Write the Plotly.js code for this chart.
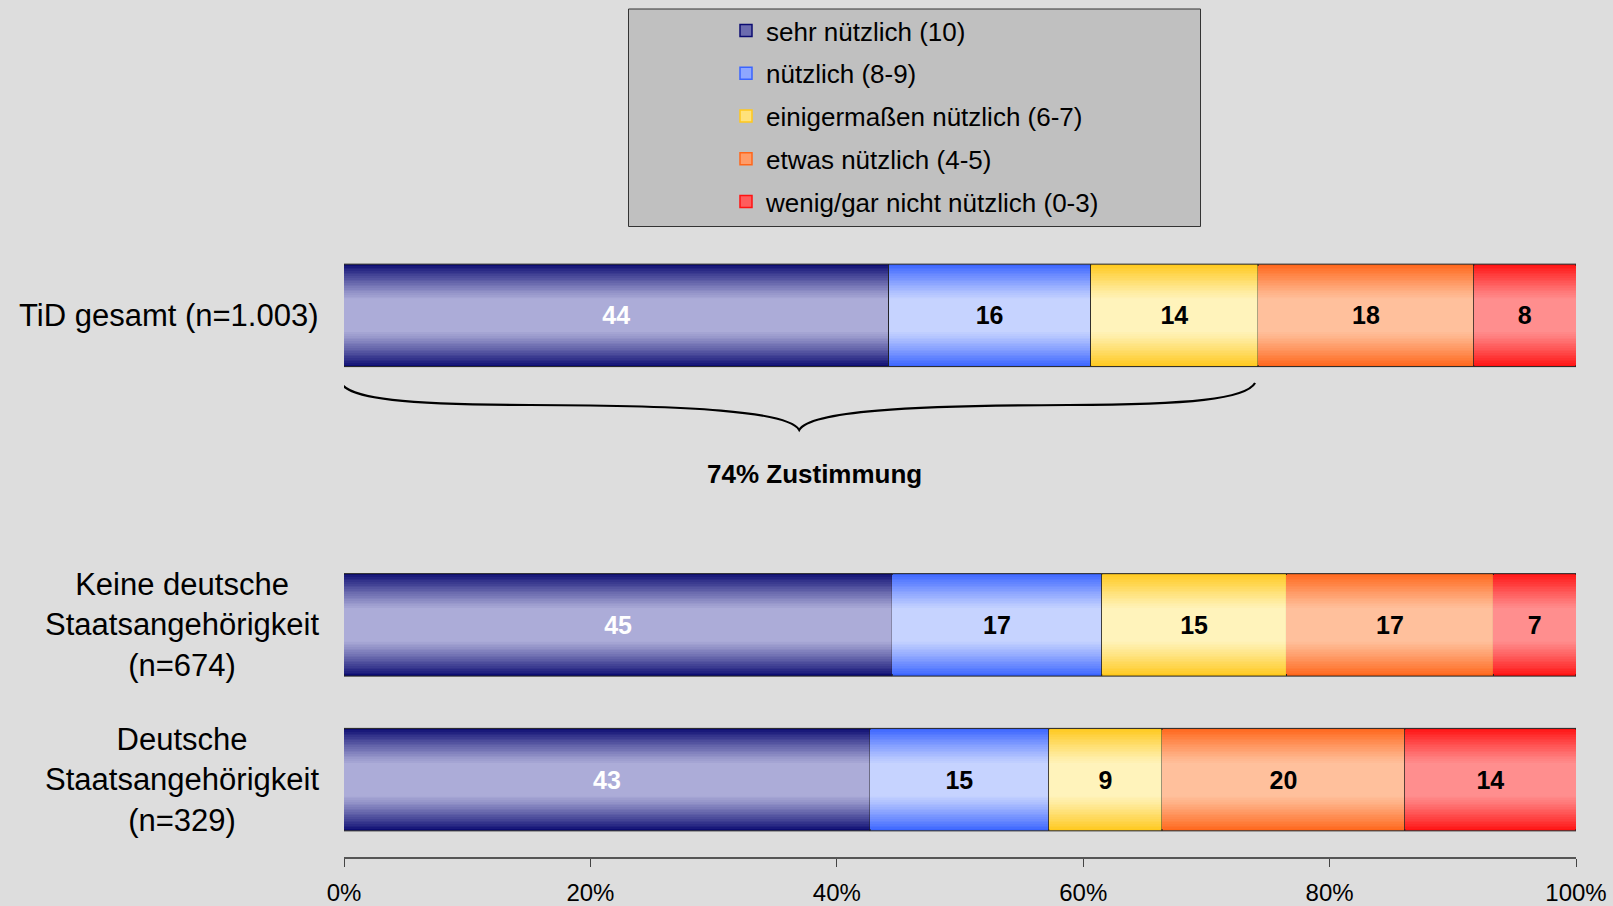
<!DOCTYPE html>
<html>
<head>
<meta charset="utf-8">
<script src="https://cdn.plot.ly/plotly-3.0.1.min.js"></script>
<style>
html,body{margin:0;padding:0;background:#dddddd;}
#chart{width:1613px;height:906px;}
</style>
</head>
<body>
<div id="chart"></div>
<script>
// ---------- DATA ----------
const categories = [
  'Deutsche<br>Staatsangehörigkeit<br>(n=329)',
  'Keine deutsche<br>Staatsangehörigkeit<br>(n=674)',
  'TiD gesamt (n=1.003)'
];
const seriesNames = [
  'sehr nützlich (10)',
  'nützlich (8-9)',
  'einigermaßen nützlich (6-7)',
  'etwas nützlich (4-5)',
  'wenig/gar nicht nützlich (0-3)'
];
// shares in % (order of categories)
const sehrNuetzlich  = [42.7, 44.5, 44.2];
const nuetzlich      = [14.5, 17.0, 16.4];
const einigermassen  = [9.2, 15.0, 13.6];
const etwasNuetzlich = [19.7, 16.8, 17.5];
const wenigNuetzlich = [13.9, 6.7, 8.3];
// printed labels
const labelsSehr     = ['43', '45', '44'];
const labelsNuetz    = ['15', '17', '16'];
const labelsEiniger  = ['9', '15', '14'];
const labelsEtwas    = ['20', '17', '18'];
const labelsWenig    = ['14', '7', '8'];
const xTickVals  = [0, 20, 40, 60, 80, 100];
const xTickText  = ['0%', '20%', '40%', '60%', '80%', '100%'];
const braceLabel = '74% Zustimmung';
const braceFrom = 0, braceTo = 73.9;

// ---------- STYLE ----------
const FONT = 'Liberation Sans, Arial, sans-serif';
const edgeColors   = ['#0c0c72', '#3a64ff', '#ffc81c', '#ff661a', '#ff1212'];
const centerColors = ['#acacd8', '#c6d3ff', '#fff3bb', '#ffc09c', '#ff8e8e'];
const textColors   = ['#ffffff', '#000000', '#000000', '#000000', '#000000'];
const BAR_W = 0.662;
const N_LAYERS = 30;
const CORE = 0.3;

const seriesValues = [sehrNuetzlich, nuetzlich, einigermassen, etwasNuetzlich, wenigNuetzlich];
const seriesLabels = [labelsSehr, labelsNuetz, labelsEiniger, labelsEtwas, labelsWenig];

function hex2rgb(h){h=h.replace('#','');return [0,2,4].map(i=>parseInt(h.substr(i,2),16));}
function mix(a,b,t){const A=hex2rgb(a),B=hex2rgb(b);return 'rgb('+A.map((v,i)=>Math.round(v+(B[i]-v)*t)).join(',')+')';}
function profile(d){const u=Math.max(0,(d-CORE)/(1-CORE));return Math.pow(u,1.15);}

const traces = [];
let bases = categories.map(() => 0);
seriesValues.forEach((vals, s) => {
  const base = bases.slice();
  for (let k = 0; k < N_LAYERS; k++) {
    const wOut = 1 - k / N_LAYERS;
    const wIn = 1 - (k + 1) / N_LAYERS;
    if (wIn < CORE) break;
    const d = (wOut + wIn) / 2;
    traces.push({
      type: 'bar', orientation: 'h', y: categories, x: vals, base: base,
      width: BAR_W * wOut,
      marker: {color: k === 0 ? edgeColors[s] : mix(centerColors[s], edgeColors[s], profile(d)),
               line: {width: k === 0 ? 1 : 0, color: '#222222'}},
      showlegend: false, hoverinfo: 'skip'
    });
  }
  traces.push({
    type: 'bar', orientation: 'h', y: categories, x: vals, base: base,
    width: BAR_W * (CORE + 0.02),
    marker: {color: centerColors[s], line: {width: 0}},
    text: seriesLabels[s], textposition: 'inside', insidetextanchor: 'middle',
    constraintext: 'none', textangle: 0,
    textfont: {family: FONT, size: 25, color: textColors[s], weight: 'bold'},
    showlegend: false, hoverinfo: 'skip'
  });
  bases = bases.map((b, i) => b + vals[i]);
});
// legend entries
seriesNames.forEach((nm, s) => {
  traces.push({
    type: 'bar', orientation: 'h', x: [null], y: [null], name: nm,
    legendgroup: 'g' + s,
    marker: {color: mix(centerColors[s], edgeColors[s], 0.4), line: {width: 1.5, color: edgeColors[s]}},
    showlegend: true, hoverinfo: 'skip'
  });
});

// ---------- LAYOUT ----------
const M = {l: 344, r: 37, t: 238, b: 49, autoexpand: false};
const W = 1613, H = 906;
const PW = W - M.l - M.r, PH = H - M.t - M.b;
const pxX = p => (p - M.l) / PW;
const pxY = p => (H - M.b - p) / PH;

const annotations = categories.map(c => ({
  xref: 'paper', x: 0, xshift: -23, xanchor: 'right',
  yref: 'y', y: c, yanchor: 'middle',
  text: c, align: 'center', showarrow: false,
  font: {family: FONT, size: 31, color: '#000'}
}));
annotations.push({
  xref: 'x', x: (braceFrom + braceTo) / 2 + 1.2, yref: 'paper', y: pxY(474),
  xanchor: 'center', yanchor: 'middle', showarrow: false,
  text: braceLabel, font: {family: FONT, size: 26, color: '#000', weight: 'bold'}
});

const mid = (braceFrom + braceTo) / 2;
const bx0 = braceFrom - 0.25, bx1 = braceTo + 0.05;
const yE = pxY(383), yF = pxY(405), yF2 = pxY(405.5), yP = pxY(430), yA = pxY(399), yB = pxY(404.5), yC = pxY(411);
const bracePath =
  `M ${bx0},${yE} C ${bx0+0.75},${yA} ${bx0+5.25},${yB} ${mid-21.85},${yF} ` +
  `C ${mid-8.85},${yF2} ${mid-0.85},${yC} ${mid},${yP} ` +
  `C ${mid+0.85},${yC} ${mid+8.85},${yF2} ${mid+21.85},${yF} ` +
  `C ${bx1-5.25},${yB} ${bx1-0.75},${yA} ${bx1},${yE}`;

const layout = {
  width: W, height: H,
  margin: M,
  paper_bgcolor: '#dddddd', plot_bgcolor: '#dddddd',
  barmode: 'overlay',
  bargap: 0,
  showlegend: true,
  font: {family: FONT, color: '#000'},
  xaxis: {
    range: [0, 100], tickvals: xTickVals, ticktext: xTickText,
    showgrid: false, zeroline: false, showline: true, linecolor: '#555555', linewidth: 2,
    ticks: 'outside', ticklen: 8, tickwidth: 1, tickcolor: '#444444',
    ticklabelstandoff: 5,
    tickfont: {family: FONT, size: 24, color: '#000'}, fixedrange: true
  },
  yaxis: {
    type: 'category', categoryorder: 'array',
    categoryarray: [categories[0], categories[1], ' ', categories[2]],
    range: [-0.5, 3.5], showticklabels: false, showgrid: false, zeroline: false,
    showline: false, ticks: '', fixedrange: true
  },
  legend: {
    xref: 'container', yref: 'container',
    x: 726 / W, xanchor: 'left', y: 1 - 7 / H, yanchor: 'top',
    bgcolor: 'rgba(0,0,0,0)', borderwidth: 0,
    traceorder: 'grouped', tracegroupgap: 6,
    font: {family: FONT, size: 26, color: '#000'}
  },
  shapes: [
    {type: 'rect', xref: 'paper', yref: 'paper', layer: 'below',
     x0: pxX(628.5), x1: pxX(1200.5), y0: pxY(9), y1: pxY(226.5),
     fillcolor: '#c0c0c0', line: {color: '#333333', width: 1}},
    {type: 'path', xref: 'x', yref: 'paper', path: bracePath,
     line: {color: '#000000', width: 2.2}}
  ],
  annotations: annotations
};

Plotly.newPlot('chart', traces, layout, {displayModeBar: false, staticPlot: true});
</script>
</body>
</html>
